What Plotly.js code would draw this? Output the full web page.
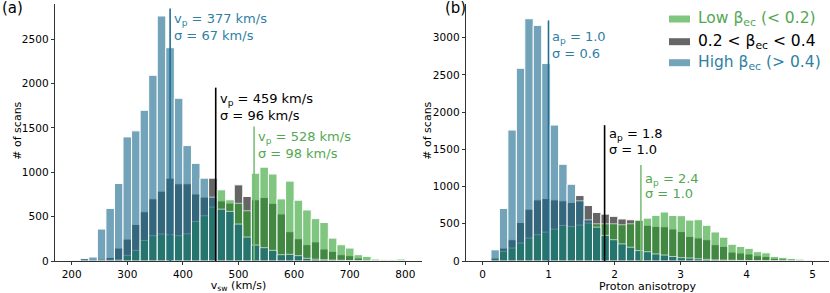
<!DOCTYPE html>
<html>
<head>
<meta charset="utf-8">
<script src="https://cdn.plot.ly/plotly-3.0.1.min.js"></script>
<style>html,body{margin:0;padding:0;background:#fff;}#chart{width:830px;height:293px;}</style>
</head>
<body>
<div id="chart"></div>
<script>
// ---------- data ----------
const vswBinStart = 200, vswBinEnd = 800;
const anisBinStart = 0, anisBinEnd = 5;
const nBins = 39;

// Panel (a): solar wind speed histograms (counts per bin)
const vswLow  = [0, 3, 5, 5, 10, 15, 64, 120, 232, 285, 304, 296, 285, 307, 446, 510, 607, 802, 690, 650, 566, 989, 1057, 980, 700, 900, 685, 575, 477, 434, 258, 183, 146, 71, 52, 22, 15, 15, 22];
const vswMid  = [3, 28, 18, 20, 40, 146, 247, 412, 555, 701, 787, 933, 870, 870, 755, 720, 933, 677, 652, 858, 727, 690, 716, 650, 530, 330, 251, 184, 215, 135, 109, 71, 60, 34, 18, 8, 5, 3, 3];
const vswHigh = [8, 25, 45, 360, 592, 873, 1398, 1466, 1698, 2092, 2760, 2403, 1833, 1300, 1100, 933, 719, 584, 559, 416, 270, 180, 150, 120, 71, 75, 60, 30, 20, 15, 10, 8, 5, 3, 2, 1, 0, 0, 0];

// Panel (b): proton anisotropy histograms
const anisLow  = [0, 35, 129, 174, 241, 308, 353, 388, 428, 478, 464, 482, 509, 500, 500, 500, 487, 500, 550, 576, 613, 658, 612, 609, 550, 555, 480, 390, 320, 225, 196, 170, 125, 110, 62, 49, 35, 25, 12];
const anisMid  = [0, 45, 174, 286, 518, 696, 821, 839, 821, 808, 786, 879, 745, 652, 630, 600, 565, 554, 545, 480, 465, 460, 430, 395, 330, 310, 286, 219, 196, 120, 107, 94, 71, 62, 36, 27, 18, 10, 5];
const anisHigh = [0, 150, 705, 1759, 2589, 3254, 3165, 2652, 1826, 1299, 1031, 808, 553, 455, 344, 286, 230, 185, 140, 125, 95, 80, 60, 45, 40, 30, 22, 15, 12, 10, 8, 5, 4, 3, 2, 1, 1, 0, 0];

// Peak markers: [low, mid, high]
const vswPeaks   = [528, 459, 377];
const vswSigmas  = [98, 96, 67];
const vswLineTop = [1514, 1953, 2845];
const anisPeaks   = [2.4, 1.85, 1.0];
const anisLabels  = ['2.4', '1.8', '1.0'];
const anisSigmas  = ['1.0', '1.0', '0.6'];
const anisLineTop = [1290, 1824, 3231];

const vswTicks  = [200, 300, 400, 500, 600, 700, 800];
const vswYTicks = [0, 500, 1000, 1500, 2000, 2500];
const anisTicks  = [0, 1, 2, 3, 4, 5];
const anisYTicks = [0, 500, 1000, 1500, 2000, 2500, 3000];

const seriesNames = ['Low β<sub>ec</sub> (< 0.2)', '0.2 < β<sub>ec</sub> < 0.4', 'High β<sub>ec</sub> (> 0.4)'];
const yTitle = '# of scans';

// ---------- styles ----------
const FONT = 'DejaVu Sans, sans-serif';
const barColors  = ['#2ca02c', '#000000', '#15678c'];
const lineColors = ['#7dbf7d', '#000000', '#236e91'];
const textColors = ['#52a852', '#000000', '#2f7fa4'];

function binCenters(start, end, n) {
  const w = (end - start) / n;
  return Array.from({length: n}, (_, i) => start + (i + 0.5) * w);
}
const vswX = binCenters(vswBinStart, vswBinEnd, nBins);
const anisX = binCenters(anisBinStart, anisBinEnd, nBins);
const vswW = (vswBinEnd - vswBinStart) / nBins;
const anisW = (anisBinEnd - anisBinStart) / nBins;

function barTrace(x, y, w, ci, xa, ya) {
  return {
    type: 'bar', x: x, y: y, width: w, xaxis: xa, yaxis: ya,
    marker: {color: barColors[ci], line: {color: 'white', width: 1}},
    opacity: 0.6, hoverinfo: 'skip', showlegend: false
  };
}
function vline(x, top, ci, xa, ya) {
  return {
    type: 'scatter', mode: 'lines', x: [x, x], y: [0, top], xaxis: xa, yaxis: ya,
    line: {color: lineColors[ci], width: 1.6}, hoverinfo: 'skip', showlegend: false
  };
}

// drawing order: mid (gray) at the back, then low (green), then high (blue)
const traces = [
  barTrace(vswX, vswMid, vswW, 1, 'x', 'y'),
  barTrace(vswX, vswLow, vswW, 0, 'x', 'y'),
  barTrace(vswX, vswHigh, vswW, 2, 'x', 'y'),
  barTrace(anisX, anisMid, anisW, 1, 'x2', 'y2'),
  barTrace(anisX, anisLow, anisW, 0, 'x2', 'y2'),
  barTrace(anisX, anisHigh, anisW, 2, 'x2', 'y2')
];
for (let i = 0; i < 3; i++) {
  traces.push(vline(vswPeaks[i], vswLineTop[i], i, 'x', 'y'));
  traces.push(vline(anisPeaks[i], anisLineTop[i], i, 'x2', 'y2'));
}

// annotation y positions (paper fraction) for [low, mid, high], two lines each
const vswTextY  = [[0.482, 0.418], [0.628, 0.568], [0.938, 0.877]];
const anisTextY = [[0.318, 0.261], [0.492, 0.435], [0.870, 0.808]];

const annotations = [];
function note(text, x, xref, y, color, size, xshift) {
  annotations.push({text: text, x: x, xref: xref, y: y, yref: 'paper',
    xanchor: 'left', yanchor: 'middle', showarrow: false, xshift: xshift || 0,
    font: {family: FONT, size: size, color: color}});
}
for (let i = 0; i < 3; i++) {
  note('v<sub>p</sub> = ' + vswPeaks[i] + ' km/s', vswPeaks[i], 'x', vswTextY[i][0], textColors[i], 13, 2);
  note('σ = ' + vswSigmas[i] + ' km/s', vswPeaks[i], 'x', vswTextY[i][1], textColors[i], 13, 2);
  note('a<sub>p</sub> = ' + anisLabels[i], anisPeaks[i], 'x2', anisTextY[i][0], textColors[i], 13, 2);
  note('σ = ' + anisSigmas[i], anisPeaks[i], 'x2', anisTextY[i][1], textColors[i], 13, 2);
}
// panel labels
note('(a)', -0.0711, 'paper', 0.985, '#000', 15, 0);
note('(b)', 0.5013, 'paper', 0.985, '#000', 15, 0);

// y-axis titles (rotated)
[-0.0478, 0.4819].forEach(function (xp) {
  annotations.push({text: yTitle, xref: 'paper', yref: 'paper', x: xp, y: 0.507,
    xanchor: 'center', yanchor: 'middle', textangle: -90, showarrow: false,
    font: {family: FONT, size: 11, color: '#000'}});
});

// manual legend
const legRowY = [0.9416, 0.8533, 0.7716];
const shapes = [];
for (let i = 0; i < 3; i++) {
  shapes.push({type: 'rect', xref: 'paper', yref: 'paper',
    x0: 0.7933, x1: 0.8204, y0: legRowY[i] - 0.0136, y1: legRowY[i] + 0.0136,
    fillcolor: barColors[i], opacity: 0.6, line: {width: 0}});
  annotations.push({text: seriesNames[i], xref: 'paper', yref: 'paper',
    x: 0.828, y: legRowY[i], xanchor: 'left', yanchor: 'middle', showarrow: false,
    font: {family: FONT, size: 15.5, color: textColors[i]}});
}

const axisCommon = {
  showline: true, linecolor: '#000', linewidth: 0.8, mirror: false,
  ticks: 'outside', ticklen: 3.5, tickwidth: 0.8, tickcolor: '#000',
  showgrid: false, zeroline: false,
  tickfont: {family: FONT, size: 10.5, color: '#000'}
};
const titleFont = {family: FONT, size: 11, color: '#000'};

const layout = {
  width: 830, height: 293,
  margin: {l: 55, r: 1, t: 4, b: 32},
  paper_bgcolor: '#fff', plot_bgcolor: '#fff',
  barmode: 'overlay', bargap: 0,
  showlegend: false,
  font: {family: FONT, color: '#000'},
  xaxis: Object.assign({}, axisCommon, {domain: [0, 0.4742], range: [170, 830],
    tickvals: vswTicks, title: {text: 'v<sub>sw</sub> (km/s)', standoff: 6, font: titleFont}}),
  yaxis: Object.assign({}, axisCommon, {domain: [0, 1], range: [0, 2895],
    tickvals: vswYTicks}),
  xaxis2: Object.assign({}, axisCommon, {domain: [0.531, 1], range: [-0.25, 5.25],
    tickvals: anisTicks, anchor: 'y2', title: {text: 'Proton anisotropy', standoff: 5, font: titleFont}}),
  yaxis2: Object.assign({}, axisCommon, {domain: [0, 1], range: [0, 3452], anchor: 'x2',
    tickvals: anisYTicks}),
  annotations: annotations,
  shapes: shapes
};

Plotly.newPlot('chart', traces, layout, {staticPlot: true, displayModeBar: false});
</script>
</body>
</html>
